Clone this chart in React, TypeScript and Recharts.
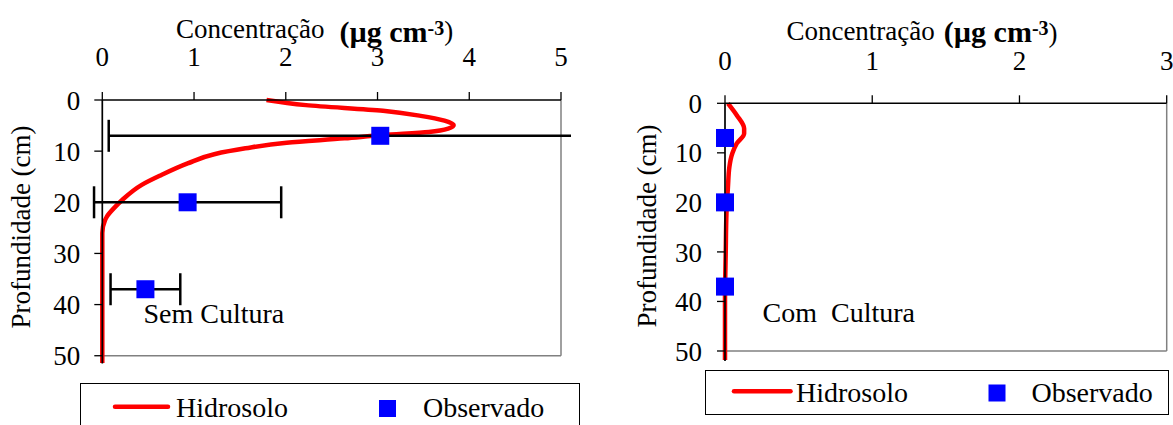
import {
  ComposedChart,
  Line,
  Scatter,
  XAxis,
  YAxis,
  ErrorBar,
  ReferenceLine,
  ReferenceDot,
  Legend,
} from "recharts";

const FONT = '"Liberation Serif", "Times New Roman", serif';

// Sem Cultura - simulated profile (Hidrosolo)
const semDepth = [0, 1, 2.1, 3.1, 4.05, 4.9, 5.6, 6.25, 6.85, 7.5, 8.35, 9.45, 10.6, 12.4, 14.7, 16.6, 19.5, 20.9, 22.8, 23.5, 26, 30, 40, 51.4];
const semConc = [1.79, 2.22, 3.06, 3.47, 3.73, 3.83, 3.77, 3.56, 3.06, 2.64, 2.01, 1.56, 1.22, 0.93, 0.64, 0.43, 0.22, 0.14, 0.05, 0.03, 0, 0, 0, 0];

// Com Cultura - simulated profile (Hidrosolo)
const comDepth = [0, 2.4, 5.1, 6.1, 8.1, 10.1, 12.8, 16.9, 22.2, 30, 39.7, 51.8];
const comConc = [0.02, 0.08, 0.13, 0.13, 0.08, 0.05, 0.03, 0.02, 0.01, 0.005, 0, 0];

// observed values, same depths in both panels
const obsDepth = [7, 20, 37];
const semObs = [3.03, 0.93, 0.47];
const semErr = [2.96, 1.02, 0.38];
const comObs = [0, 0, 0];

const semTicks = [0, 1, 2, 3, 4, 5];
const comTicks = [0, 1, 2, 3];
const depthTicks = [0, 10, 20, 30, 40, 50];

const legendNames = ["Hidrosolo", "Observado"];

const semCurve = semDepth.map((d, i) => ({ d, v: semConc[i] }));
const comCurve = comDepth.map((d, i) => ({ d, v: comConc[i] }));
const semPoints = obsDepth.map((d, i) => ({ d, v: semObs[i], err: semErr[i] }));
const comPoints = obsDepth.map((d, i) => ({ d, v: comObs[i] }));

const tickStyle = { fill: "#000", fontSize: 27, fontFamily: FONT };

const squareShape = (p: any) => {
  if (p.cx == null || p.cy == null) return <g />;
  return <rect x={p.cx - 9} y={p.cy - 9} width={18} height={18} fill="#0000FF" />;
};

function titleLabel(x: number, y: number, gap: number, drop: number) {
  return () => (
    <text x={x} y={y} fill="#000" fontFamily={FONT} fontSize={27}>
      Concentração
      <tspan dx={gap} dy={drop} fontWeight="bold" fontSize={30}>(µg cm</tspan>
      <tspan dy={-7} fontWeight="bold" fontSize={20}>-3</tspan>
      <tspan dy={9 - drop} fontSize={27}>)</tspan>
    </text>
  );
}

function depthLabel(x: number, y: number) {
  return () => (
    <text
      x={x}
      y={y}
      transform={`rotate(-90 ${x} ${y})`}
      textAnchor="middle"
      fill="#000"
      fontFamily={FONT}
      fontSize={27}
    >
      Profundidade (cm)
    </text>
  );
}

function note(text: string) {
  return (p: any) => (
    <text
      x={p.viewBox.x}
      y={p.viewBox.y}
      fill="#000"
      fontFamily={FONT}
      fontSize={28}
      style={{ whiteSpace: "pre" }}
    >
      {text}
    </text>
  );
}

interface LegendLayout {
  w: number;
  h: number;
  lineX: [number, number];
  lineY: number;
  text1X: number;
  sqX: number;
  sqY: number;
  text2X: number;
  baseY: number;
}

function legendBox(l: LegendLayout) {
  return () => (
    <svg width={l.w} height={l.h} style={{ display: "block" }}>
      <rect x={0.5} y={0.5} width={l.w - 1} height={l.h - 1} fill="#fff" stroke="#000" strokeWidth={1} />
      <line
        x1={l.lineX[0]}
        x2={l.lineX[1]}
        y1={l.lineY}
        y2={l.lineY}
        stroke="#FF0000"
        strokeWidth={4.5}
        strokeLinecap="round"
      />
      <text x={l.text1X} y={l.baseY} fontFamily={FONT} fontSize={28} fill="#000">
        {legendNames[0]}
      </text>
      <rect x={l.sqX} y={l.sqY} width={17} height={17} fill="#0000FF" />
      <text x={l.text2X} y={l.baseY} fontFamily={FONT} fontSize={28} fill="#000">
        {legendNames[1]}
      </text>
    </svg>
  );
}

function SemCultura() {
  // svg is 571 wide so the long error bar is cut off just right of the frame
  return (
    <ComposedChart
      width={571}
      height={425}
      layout="vertical"
      margin={{ top: 0, right: 10, bottom: 61.6, left: 0 }}
    >
      <XAxis
        xAxisId="main"
        type="number"
        orientation="top"
        dataKey="v"
        domain={[0, 5]}
        ticks={semTicks}
        allowDataOverflow
        interval={0}
        height={100}
        tickSize={8}
        tickMargin={26}
        axisLine={{ stroke: "#000", strokeWidth: 1.5 }}
        tickLine={{ stroke: "#000", strokeWidth: 1.3 }}
        tick={tickStyle}
        label={titleLabel(176, 38.3, 15, 4)}
      />
      <XAxis xAxisId="curve" type="number" dataKey="v" domain={[0, 5]} hide />
      <YAxis
        type="number"
        dataKey="d"
        domain={[0, 51.5]}
        ticks={depthTicks}
        interval={0}
        width={102.3}
        tickSize={8}
        tickMargin={14}
        axisLine={{ stroke: "#000", strokeWidth: 1.7 }}
        tickLine={{ stroke: "#000", strokeWidth: 1.3 }}
        tick={tickStyle}
        label={depthLabel(30, 227)}
      />
      <ReferenceLine xAxisId="main" y={50} stroke="#808080" strokeWidth={1.5} />
      <ReferenceLine
        xAxisId="main"
        segment={[{ x: 5, y: 0 }, { x: 5, y: 50 }]}
        stroke="#808080"
        strokeWidth={1.5}
      />
      <Line
        xAxisId="curve"
        data={semCurve}
        dataKey="v"
        name="Hidrosolo"
        type="monotone"
        stroke="#FF0000"
        strokeWidth={4.5}
        dot={false}
        isAnimationActive={false}
      />
      <Scatter
        xAxisId="main"
        data={semPoints}
        name="Observado"
        shape={squareShape}
        isAnimationActive={false}
      >
        <ErrorBar dataKey="err" direction="x" width={16} stroke="#000" strokeWidth={2.5} />
      </Scatter>
      <ReferenceDot
        xAxisId="main"
        x={0.449}
        y={43.67}
        r={0}
        fill="none"
        stroke="none"
        label={note("Sem Cultura")}
      />
      <Legend
        layout="horizontal"
        verticalAlign="middle"
        align="center"
        wrapperStyle={{ left: 80, top: 383, width: 500, height: 50 }}
        content={legendBox({
          w: 500,
          h: 50,
          lineX: [35, 88],
          lineY: 23.7,
          text1X: 96,
          sqX: 299,
          sqY: 17,
          text2X: 343,
          baseY: 33.7,
        })}
      />
    </ComposedChart>
  );
}

function ComCultura() {
  return (
    <ComposedChart
      width={573}
      height={425}
      layout="vertical"
      margin={{ top: 0, right: 6.3, bottom: 64.1, left: 0 }}
    >
      <XAxis
        type="number"
        orientation="top"
        dataKey="v"
        domain={[0, 3]}
        ticks={comTicks}
        interval={0}
        height={103.3}
        tickSize={8}
        tickMargin={25}
        axisLine={{ stroke: "#000", strokeWidth: 1.5 }}
        tickLine={{ stroke: "#000", strokeWidth: 1.3 }}
        tick={tickStyle}
        label={titleLabel(186.4, 40, 9, 2)}
      />
      <YAxis
        type="number"
        dataKey="d"
        domain={[0, 52]}
        ticks={depthTicks}
        interval={0}
        width={125}
        tickSize={8}
        tickMargin={15}
        axisLine={{ stroke: "#000", strokeWidth: 1.7 }}
        tickLine={{ stroke: "#000", strokeWidth: 1.3 }}
        tick={tickStyle}
        label={depthLabel(56, 226)}
      />
      <ReferenceLine y={50} stroke="#808080" strokeWidth={1.5} />
      <ReferenceLine
        segment={[{ x: 3, y: 0 }, { x: 3, y: 50 }]}
        stroke="#808080"
        strokeWidth={1.5}
      />
      <Line
        data={comCurve}
        dataKey="v"
        name="Hidrosolo"
        type="monotone"
        stroke="#FF0000"
        strokeWidth={4.5}
        dot={false}
        isAnimationActive={false}
      />
      <Scatter data={comPoints} name="Observado" shape={squareShape} isAnimationActive={false} />
      <ReferenceDot
        x={0.255}
        y={44.1}
        r={0}
        fill="none"
        stroke="none"
        label={note("Com  Cultura")}
      />
      <Legend
        layout="horizontal"
        verticalAlign="middle"
        align="center"
        wrapperStyle={{ left: 104.5, top: 369.5, width: 464, height: 45 }}
        content={legendBox({
          w: 464,
          h: 45,
          lineX: [29, 85.5],
          lineY: 21.2,
          text1X: 91,
          sqX: 283.5,
          sqY: 14.5,
          text2X: 326.5,
          baseY: 32.2,
        })}
      />
    </ComposedChart>
  );
}

export default function App() {
  return (
    <div
      style={{
        position: "absolute",
        left: 0,
        top: 0,
        width: 1173,
        height: 425,
        overflow: "hidden",
        background: "#fff",
      }}
    >
      <div style={{ position: "absolute", left: 0, top: 0 }}>
        <SemCultura />
      </div>
      <div style={{ position: "absolute", left: 600, top: 0 }}>
        <ComCultura />
      </div>
    </div>
  );
}
